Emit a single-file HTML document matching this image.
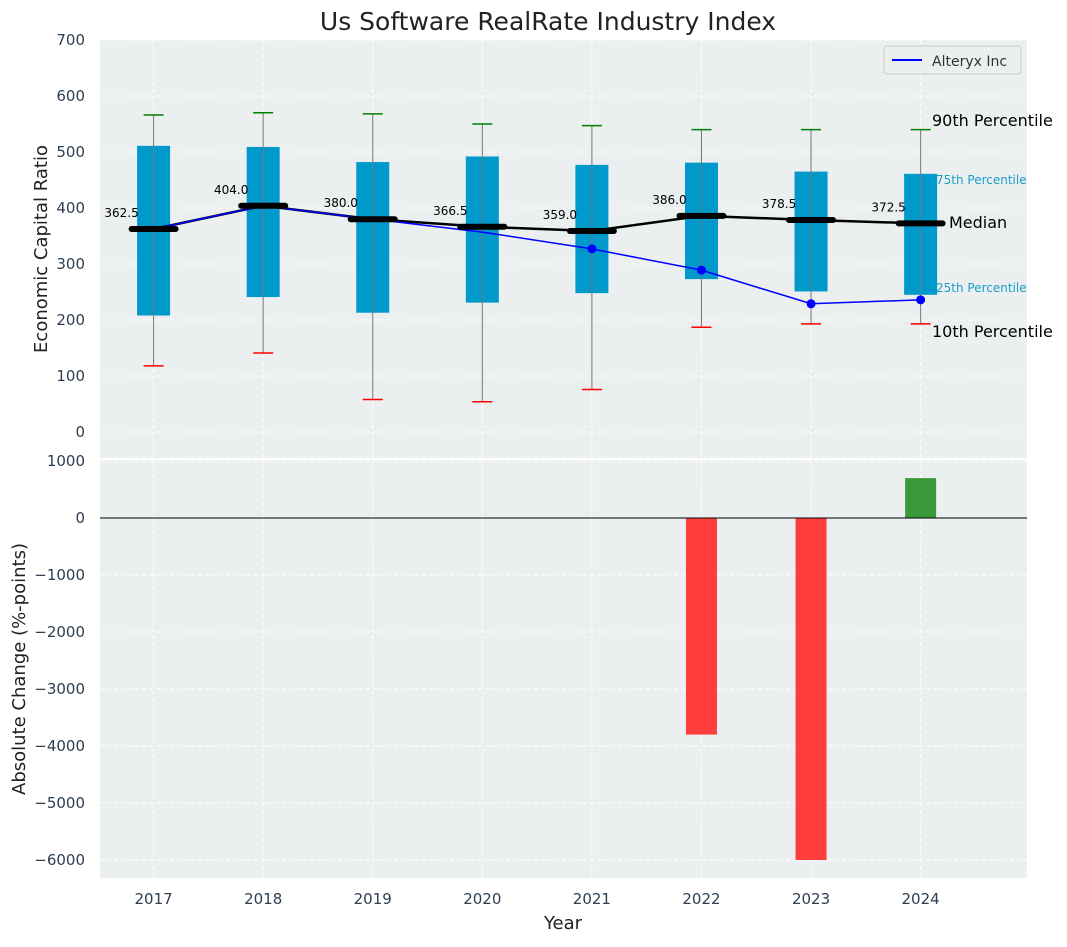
<!DOCTYPE html>
<html><head><meta charset="utf-8"><style>
body{margin:0;background:#fff;font-family:"Liberation Sans","DejaVu Sans",sans-serif;}
</style></head><body>
<svg width="1067" height="942" xmlns="http://www.w3.org/2000/svg" font-family="DejaVu Sans, Liberation Sans, sans-serif">
<text x="548" y="30" font-size="25" text-anchor="middle" fill="#222">Us Software RealRate Industry Index</text>
<rect x="100" y="40" width="927" height="418" fill="#ebeff0"/>
<rect x="100" y="460" width="927" height="418" fill="#ebeff0"/>
<g id="gtop"></g><g id="gbot"></g>
<text x="47" y="249" font-size="18" fill="#222" text-anchor="middle" transform="rotate(-90 47 249)">Economic Capital Ratio</text>
<text x="25" y="669" font-size="18" fill="#222" text-anchor="middle" transform="rotate(-90 25 669)">Absolute Change (%-points)</text>
<text x="563" y="929" font-size="18" fill="#222" text-anchor="middle">Year</text>
<g>
<rect x="884" y="46" width="137" height="28" fill="#ebeff0" stroke="#ccc" rx="3"/>
<line x1="892" y1="60" x2="922" y2="60" stroke="blue" stroke-width="2"/>
<text x="932" y="66" font-size="14" fill="#333">Alteryx Inc</text>
</g>
<text x="932" y="126" font-size="16" fill="#000">90th Percentile</text>
<text x="936" y="184" font-size="12" fill="#1a9cc8">75th Percentile</text>
<text x="949" y="228" font-size="16" fill="#000">Median</text>
<text x="936" y="292" font-size="12" fill="#1a9cc8">25th Percentile</text>
<text x="932" y="337" font-size="16" fill="#000">10th Percentile</text>
</svg>
<script>
const years=[2017,2018,2019,2020,2021,2022,2023,2024];
const p10=[118,141,58,54,76,187,193,193];
const p25=[208,241,213,231,248,273,251,245];
const med=[362.5,404,380,366.5,359,386,378.5,372.5];
const p75=[511,509,482,492,477,481,465,461];
const p90=[566,570,568,550,547,540,540,540];
const company=[362.5,404,380,357,327,289,229,236];
const markerFrom=4;
const changes=[null,null,null,null,null,-3800,-6000,700];
const topTicks=[0,100,200,300,400,500,600,700];
const botTicks=[1000,0,-1000,-2000,-3000,-4000,-5000,-6000];
const NS="http://www.w3.org/2000/svg";
const X=y=>101+(y-2016.52)*(927/8.46);
const YT=v=>432-v*0.56;
const YB=v=>518-v*0.057;
function mk(p,t,a){const e=document.createElementNS(NS,t);for(const k in a)e.setAttribute(k,a[k]);p.appendChild(e);return e;}
const gTop=document.getElementById('gtop'),gBot=document.getElementById('gbot');
topTicks.forEach(v=>{
 const l=mk(gTop,'line',{x1:100,x2:1027,y1:YT(v),y2:YT(v),stroke:'#fff','stroke-dasharray':'4,3'});
 
 
 const t=mk(gTop,'text',{x:85,y:YT(v)+5,'font-size':15,fill:'#2c3e50','text-anchor':'end'});t.textContent=v;
 
 
});
botTicks.forEach(v=>{
 const l=mk(gBot,'line',{x1:100,x2:1027,y1:YB(v),y2:YB(v),stroke:'#fff','stroke-dasharray':'4,3'});
 
 
 const t=mk(gBot,'text',{x:85,y:YB(v)+5,'font-size':15,fill:'#2c3e50','text-anchor':'end'});t.textContent=v.toString().replace('-','\u2212');
 
 
});
years.forEach(y=>{
 [gTop,gBot].forEach((g,i)=>{const l=mk(g,'line',{x1:X(y),x2:X(y),y1:i?460:40,y2:i?878:458,stroke:'#fff','stroke-dasharray':'4,3'});
 
 });
 const t=mk(gBot,'text',{x:X(y),y:904,'font-size':15,fill:'#2c3e50','text-anchor':'middle'});t.textContent=y;
 
 
});
years.forEach((y,i)=>{
 const x=X(y);
 const b=mk(gTop,'rect',{x:x-16.5,y:YT(p75[i]),width:33,height:YT(p25[i])-YT(p75[i]),fill:'#0099cc'});
 
 
 const w=mk(gTop,'line',{x1:x,x2:x,y1:YT(p90[i]),y2:YT(p10[i]),stroke:'#777','stroke-width':1});
 
 
 const h=mk(gTop,'line',{x1:x-10,x2:x+10,y1:YT(p90[i]),y2:YT(p90[i]),stroke:'green','stroke-width':1.5});
 
 
 const lo=mk(gTop,'line',{x1:x-10,x2:x+10,y1:YT(p10[i]),y2:YT(p10[i]),stroke:'red','stroke-width':1.5});
 
 
});
const ml=mk(gTop,'polyline',{points:years.map((y,i)=>X(y)+','+YT(med[i])).join(' '),fill:'none',stroke:'#000','stroke-width':2.5});


const cl=mk(gTop,'polyline',{points:years.map((y,i)=>X(y)+','+YT(company[i])).join(' '),fill:'none',stroke:'blue','stroke-width':1.5});


years.forEach((y,i)=>{
 const x=X(y);
 const m=mk(gTop,'line',{x1:x-22,x2:x+22,y1:YT(med[i]),y2:YT(med[i]),stroke:'#000','stroke-width':6,'stroke-linecap':'round'});
 
 
 const t=mk(gTop,'text',{x:x-32,y:YT(med[i])-12,'font-size':12,fill:'#000','text-anchor':'middle'});t.textContent=med[i].toFixed(1);
 
 
 if(i>=markerFrom){const c=mk(gTop,'circle',{cx:x,cy:YT(company[i]),r:4.5,fill:'blue'});
 
 }
});
years.forEach((y,i)=>{
 const v=changes[i];if(v===null)return;
 const y0=YB(0),y1=YB(v);
 const r=mk(gBot,'rect',{x:X(y)-15.5,y:Math.min(y0,y1),width:31,height:Math.abs(y1-y0),fill:v<0?'#ff3d3d':'#3a9a3a'});
 
 
});
const z=mk(gBot,'line',{x1:100,x2:1027,y1:YB(0),y2:YB(0),stroke:'#000','stroke-width':1});


</script>
</body></html>
